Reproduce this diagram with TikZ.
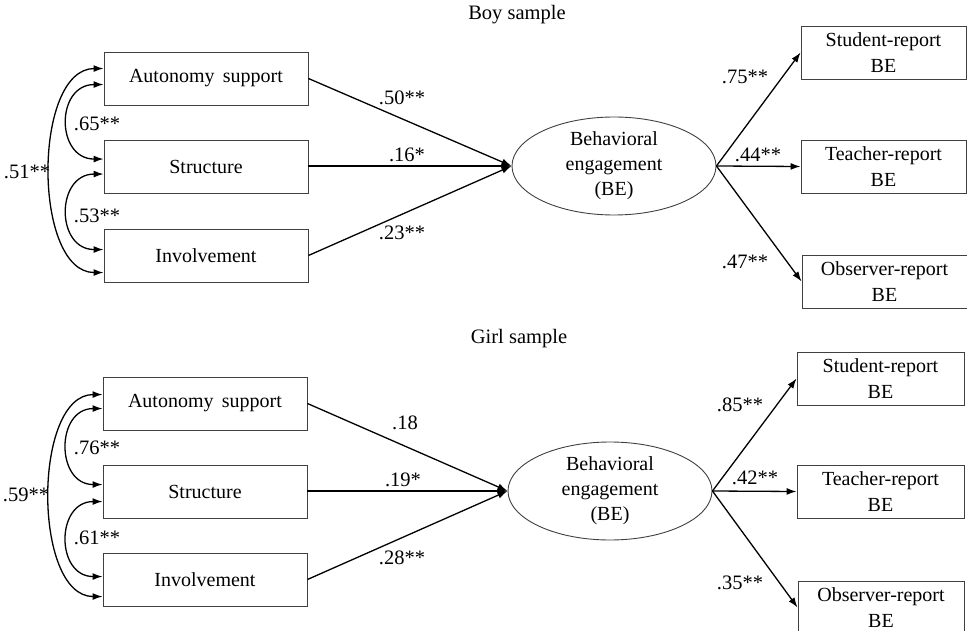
\documentclass[tikz,border=0pt]{standalone}
\usepackage{fontspec}
\setmainfont{Liberation Serif}
\usetikzlibrary{shapes.geometric,arrows.meta,calc}
\begin{document}
\begin{tikzpicture}[x=1pt,y=-1pt,
  box/.style={draw=black!75,line width=0.9pt,minimum width=204pt,minimum height=53pt,inner sep=0pt,font=\fontsize{20}{26}\selectfont},
  rbox/.style={box,minimum width=165pt,align=center},
  lat/.style={draw=black!75,line width=0.9pt,ellipse,minimum width=204pt,minimum height=98pt,inner sep=0pt,align=center,font=\fontsize{20}{25}\selectfont},
  arr/.style={line width=1.3pt,-{Latex[length=10pt,width=7pt]}},
  cov/.style={line width=1.3pt,{Latex[length=10pt,width=7pt]}-{Latex[length=10pt,width=7pt]}},
  lab/.style={font=\fontsize{20.5}{22}\selectfont,inner sep=0pt},
  ttl/.style={font=\fontsize{20.5}{22}\selectfont,inner sep=0pt}]
\useasboundingbox (0,0) rectangle (967,631);
\clip (0,0) rectangle (967,631);

% ---------- Boy sample ----------
\node[ttl] (t1) at (517,15) {Boy sample};
\node[box] (A1) at (206,78.5) {Autonomy\, support};
\node[box] (S1) at (206,167) {Structure};
\node[box] (I1) at (206,255.5) {Involvement};
\node[lat] (E1) at (614,166) {Behavioral\\engagement\\(BE)};
\node[rbox] (SR1) at (883.5,52.5) {Student-report\\BE};
\node[rbox] (TR1) at (883.5,166.5) {Teacher-report\\BE};
\node[rbox] (OR1) at (884.5,281.5) {Observer-report\\BE};

\draw[arr] (A1.east) -- (E1.west);
\draw[arr] (S1.east |- E1.west) -- (E1.west);
\draw[arr] (I1.east) -- (E1.west);
\draw[arr] (E1.east) -- (SR1.west);
\draw[arr] (E1.east) -- (TR1.west);
\draw[arr] (E1.east) -- (OR1.west);

\coordinate (a1o) at ($(A1.north west)+(0,17)$);
\coordinate (a1i) at ($(A1.north west)+(0,33)$);
\coordinate (s1a) at ($(S1.north west)+(0,19)$);
\coordinate (s1b) at ($(S1.north west)+(0,34)$);
\coordinate (i1i) at ($(I1.north west)+(0,21)$);
\coordinate (i1o) at ($(I1.north west)+(0,44)$);
\draw[cov] (a1o) .. controls +(-71,0) and +(-71,0) .. (i1o);
\draw[cov] (a1i) .. controls +(-48,0) and +(-48,0) .. (s1a);
\draw[cov] (s1b) .. controls +(-48,0) and +(-48,0) .. (i1i);

\node[lab] (l51) at (27,172) {.51**};
\node[lab] (l65) at (97,124) {.65**};
\node[lab] (l53) at (97,216) {.53**};
\node[lab] (l50) at (402,98) {.50**};
\node[lab] (l16) at (407,155) {.16*};
\node[lab] (l23) at (402,233) {.23**};
\node[lab] (l75) at (745,77) {.75**};
\node[lab] (l44) at (758,155) {.44**};
\node[lab] (l47) at (745,262) {.47**};

% ---------- Girl sample ----------
\node[ttl] (t2) at (519,339) {Girl sample};
\node[box] (A2) at (205,403.5) {Autonomy\, support};
\node[box] (S2) at (205,491.5) {Structure};
\node[box] (I2) at (205,579.5) {Involvement};
\node[lat] (E2) at (610,491) {Behavioral\\engagement\\(BE)};
\node[rbox,minimum width=167pt] (SR2) at (880.5,378.5) {Student-report\\BE};
\node[rbox,minimum width=167pt] (TR2) at (880.5,491.5) {Teacher-report\\BE};
\node[rbox,minimum width=166pt] (OR2) at (881,607.5) {Observer-report\\BE};

\draw[arr] (A2.east) -- (E2.west);
\draw[arr] (S2.east |- E2.west) -- (E2.west);
\draw[arr] (I2.east) -- (E2.west);
\draw[arr] (E2.east) -- (SR2.west);
\draw[arr] (E2.east) -- (TR2.west);
\draw[arr] (E2.east) -- (OR2.west);

\coordinate (a2o) at ($(A2.north west)+(0,18)$);
\coordinate (a2i) at ($(A2.north west)+(0,32)$);
\coordinate (s2a) at ($(S2.north west)+(0,20)$);
\coordinate (s2b) at ($(S2.north west)+(0,37)$);
\coordinate (i2i) at ($(I2.north west)+(0,24)$);
\coordinate (i2o) at ($(I2.north west)+(0,44)$);
\draw[cov] (a2o) .. controls +(-70,0) and +(-70,0) .. (i2o);
\draw[cov] (a2i) .. controls +(-47,0) and +(-47,0) .. (s2a);
\draw[cov] (s2b) .. controls +(-47,0) and +(-47,0) .. (i2i);

\node[lab] (l59) at (26,495) {.59**};
\node[lab] (l76) at (97,448) {.76**};
\node[lab] (l61) at (97,538) {.61**};
\node[lab] (l18) at (405,423) {.18};
\node[lab] (l19) at (403,480) {.19*};
\node[lab] (l28) at (402,558) {.28**};
\node[lab] (l85) at (740,405) {.85**};
\node[lab] (l42) at (755,478) {.42**};
\node[lab] (l35) at (740,583) {.35**};
\end{tikzpicture}
\end{document}
